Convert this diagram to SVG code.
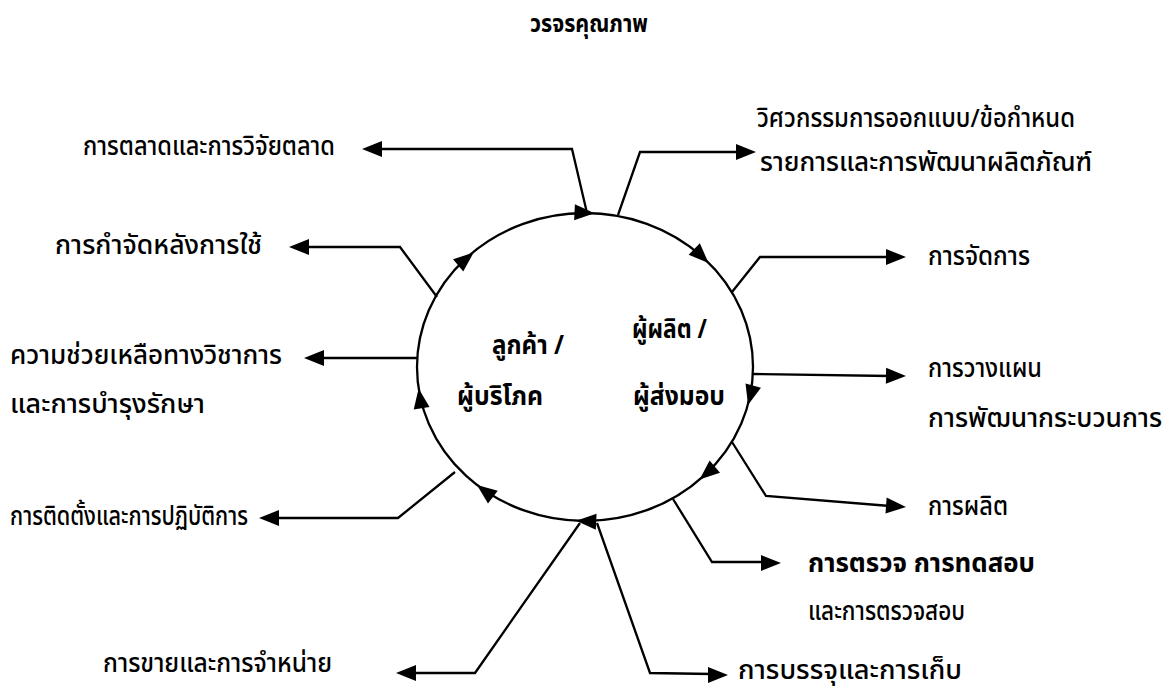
<svg xmlns="http://www.w3.org/2000/svg" xmlns:xlink="http://www.w3.org/1999/xlink" width="1176" height="696" viewBox="0 0 1176 696">
<defs>
<style>
text{font-family:"Noto Sans Thai","Noto Sans","DejaVu Sans",sans-serif;fill:#000;font-size:26px;font-weight:500}
.t{font-weight:bold;font-size:25px}
.in{font-weight:bold;font-size:26px}
.b{font-weight:bold}
.ln{fill:none;stroke:#000;stroke-width:2.3;stroke-linejoin:miter}
</style>
<path id="ah" d="M0,0 L-20,-8 L-20,8 Z" fill="#000"/>
</defs>
<rect width="1176" height="696" fill="#fff"/>
<g id="title"><text class="t" x="530" y="32" textLength="118" lengthAdjust="spacingAndGlyphs">วรจรคุณภาพ</text></g>
<g id="cycle">
<ellipse cx="585" cy="367" rx="168" ry="154" fill="none" stroke="#000" stroke-width="2.3"/>
<use xlink:href="#ah" transform="translate(594.5,213.2) rotate(2.7)"/>
<use xlink:href="#ah" transform="translate(708.5,263) rotate(44.5)"/>
<use xlink:href="#ah" transform="translate(748,405) rotate(105.2)"/>
<use xlink:href="#ah" transform="translate(699.6,479.6) rotate(139.5)"/>
<use xlink:href="#ah" transform="translate(576.2,520.8) rotate(182.7)"/>
<use xlink:href="#ah" transform="translate(477,485) rotate(217.6)"/>
<use xlink:href="#ah" transform="translate(418.6,388.4) rotate(-98.7)"/>
<use xlink:href="#ah" transform="translate(473.6,252.6) rotate(-39.5)"/>
</g>
<g id="customer"><text class="in" x="492" y="354" textLength="72" lengthAdjust="spacingAndGlyphs">ลูกค้า /</text><text class="in" x="457" y="405" textLength="86" lengthAdjust="spacingAndGlyphs">ผู้บริโภค</text></g>
<g id="supplier"><text class="in" x="632" y="338" textLength="75" lengthAdjust="spacingAndGlyphs">ผู้ผลิต /</text><text class="in" x="633" y="405" textLength="92" lengthAdjust="spacingAndGlyphs">ผู้ส่งมอบ</text></g>
<g id="connectors">
<path class="ln" d="M587,213 L572,149 L378,149"/><use xlink:href="#ah" transform="translate(362,149) rotate(180)"/>
<path class="ln" d="M618,215 L640,152 L740,152"/><use xlink:href="#ah" transform="translate(756,152)"/>
<path class="ln" d="M732,292 L760,257 L890,257"/><use xlink:href="#ah" transform="translate(906,257)"/>
<path class="ln" d="M753,374 L890,376"/><use xlink:href="#ah" transform="translate(906,376) rotate(0.8)"/>
<path class="ln" d="M732,442 L766,496 L890,506"/><use xlink:href="#ah" transform="translate(906,507) rotate(4)"/>
<path class="ln" d="M673,499 L712,562 L765,562"/><use xlink:href="#ah" transform="translate(781,563)"/>
<path class="ln" d="M597,523 L650,673 L712,674"/><use xlink:href="#ah" transform="translate(728,675)"/>
<path class="ln" d="M580,523 L475,673 L412,673"/><use xlink:href="#ah" transform="translate(396,673) rotate(180)"/>
<path class="ln" d="M455,472 L398,518 L275,518"/><use xlink:href="#ah" transform="translate(259,518) rotate(180)"/>
<path class="ln" d="M417,358 L320,358"/><use xlink:href="#ah" transform="translate(304,358) rotate(180)"/>
<path class="ln" d="M437,297 L400,247 L305,247"/><use xlink:href="#ah" transform="translate(289,247) rotate(180)"/>
</g>
<g id="n-marketing"><text x="83" y="155" textLength="252" lengthAdjust="spacingAndGlyphs">การตลาดและการวิจัยตลาด</text></g>
<g id="n-disposal"><text x="55" y="254" textLength="207" lengthAdjust="spacingAndGlyphs">การกำจัดหลังการใช้</text></g>
<g id="n-support"><text x="10" y="364" textLength="272" lengthAdjust="spacingAndGlyphs">ความช่วยเหลือทางวิชาการ</text><text x="10" y="413" textLength="195" lengthAdjust="spacingAndGlyphs">และการบำรุงรักษา</text></g>
<g id="n-install"><text x="10" y="525" textLength="238" lengthAdjust="spacingAndGlyphs">การติดตั้งและการปฏิบัติการ</text></g>
<g id="n-sales"><text x="103" y="672" textLength="229" lengthAdjust="spacingAndGlyphs">การขายและการจำหน่าย</text></g>
<g id="n-engineering"><text x="757" y="127" textLength="318" lengthAdjust="spacingAndGlyphs">วิศวกรรมการออกแบบ/ข้อกำหนด</text><text x="760" y="171" textLength="332" lengthAdjust="spacingAndGlyphs">รายการและการพัฒนาผลิตภัณฑ์</text></g>
<g id="n-management"><text x="928" y="265" textLength="102" lengthAdjust="spacingAndGlyphs">การจัดการ</text></g>
<g id="n-planning"><text x="928" y="377" textLength="114" lengthAdjust="spacingAndGlyphs">การวางแผน</text><text x="928" y="427" textLength="234" lengthAdjust="spacingAndGlyphs">การพัฒนากระบวนการ</text></g>
<g id="n-production"><text x="928" y="515" textLength="80" lengthAdjust="spacingAndGlyphs">การผลิต</text></g>
<g id="n-inspection"><text class="b" x="808" y="572" textLength="227" lengthAdjust="spacingAndGlyphs">การตรวจ การทดสอบ</text><text x="808" y="620" textLength="157" lengthAdjust="spacingAndGlyphs">และการตรวจสอบ</text></g>
<g id="n-packaging"><text x="738" y="679" textLength="224" lengthAdjust="spacingAndGlyphs">การบรรจุและการเก็บ</text></g>
</svg>
